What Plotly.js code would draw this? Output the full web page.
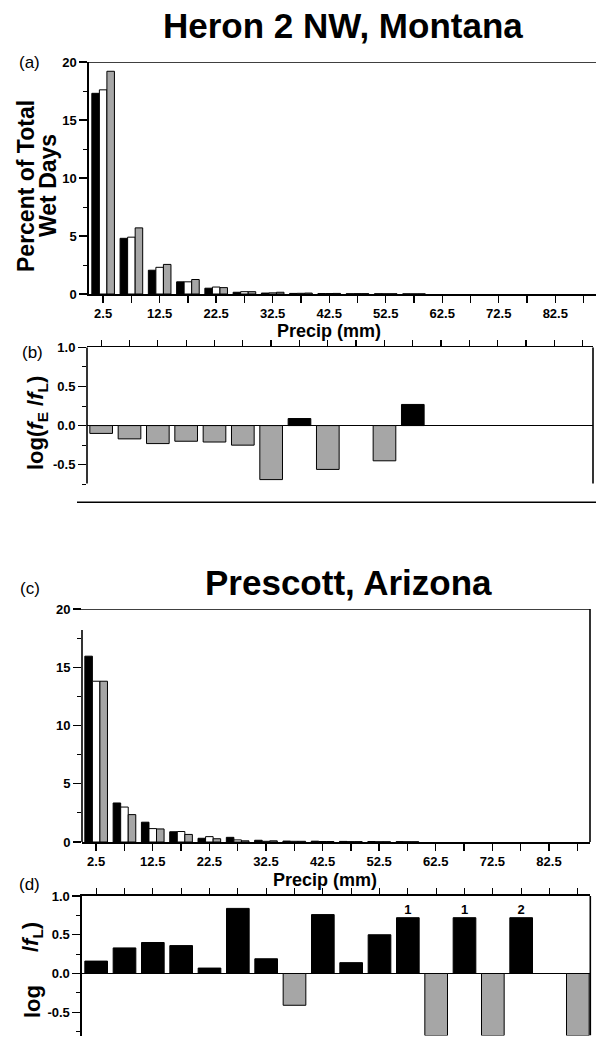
<!DOCTYPE html>
<html>
<head>
<meta charset="utf-8">
<script src="https://cdn.plot.ly/plotly-3.0.1.min.js"></script>
<style>
  html, body { margin: 0; padding: 0; background: #fff; }
  #chart { width: 596px; height: 1051px; }
</style>
</head>
<body>
<div id="chart"></div>
<script>
// ---------------- DATA ----------------
const binCenters = [2.5, 7.5, 12.5, 17.5, 22.5, 27.5, 32.5, 37.5, 42.5, 47.5, 52.5, 57.5, 62.5, 67.5, 72.5, 77.5, 82.5, 87.5];
const xTickValues = [2.5, 12.5, 22.5, 32.5, 42.5, 52.5, 62.5, 72.5, 82.5];
const xTickLabels = ['2.5', '12.5', '22.5', '32.5', '42.5', '52.5', '62.5', '72.5', '82.5'];

// Heron 2 NW, Montana (panel a): percent of total wet days
const heronBlack = [17.3, 4.8, 2.05, 1.05, 0.5, 0.15, 0.08, 0.05, 0.04, 0.02, 0.02, 0.01];
const heronWhite = [17.6, 4.9, 2.3, 1.05, 0.6, 0.2, 0.1, 0.06, 0.04, 0.03, 0.02, 0.01];
const heronGrey  = [19.2, 5.7, 2.55, 1.25, 0.55, 0.2, 0.15, 0.08, 0.05, 0.03, 0.02, 0.01];

// Heron (panel b): log(fE/fL) per bin (null = no bar)
const heronLogRatio = [-0.10, -0.17, -0.23, -0.20, -0.21, -0.25, -0.69, 0.09, -0.56, null, -0.45, 0.27, null, null, null, null, null, null];

// Prescott, Arizona (panel c)
const prescottBlack = [15.95, 3.35, 1.7, 0.88, 0.32, 0.4, 0.15, 0.08, 0.07, 0.05, 0.04, 0.03];
const prescottWhite = [13.8, 3.0, 1.15, 0.9, 0.46, 0.18, 0.06, 0.06, 0.04, 0.03, 0.02, 0.02];
const prescottGrey  = [13.8, 2.35, 1.12, 0.65, 0.28, 0.1, 0.1, 0.06, 0.04, 0.03, 0.02, 0.02];

// Prescott (panel d)
const prescottLogRatio = [0.16, 0.33, 0.40, 0.36, 0.07, 0.84, 0.19, -0.41, 0.76, 0.14, 0.50, 0.72, -0.80, 0.72, -0.80, 0.72, null, -0.80];
const prescottCountBins = [57.5, 67.5, 77.5];
const prescottCountLabels = ['1', '1', '2'];

// ---------------- STYLE / LAYOUT HELPERS ----------------
const W = 596, H = 1051;
const px = x => x / W;
const py = y => 1 - y / H;
const FONT = 'Liberation Sans, Arial, Helvetica, sans-serif';
const GREY = '#a6a6a6';
const tickFont = { family: FONT, size: 13, color: 'black', weight: 'bold' };

function groupTraces(vals, xa, ya) {
  const x = binCenters.slice(0, vals[0].length);
  return [
    { type: 'bar', name: 'Black', x: x, y: vals[0], xaxis: xa, yaxis: ya,
      marker: { color: 'black', line: { color: 'black', width: 1 } }, showlegend: false },
    { type: 'bar', name: 'White', x: x, y: vals[1], xaxis: xa, yaxis: ya,
      marker: { color: 'white', line: { color: 'black', width: 1 } }, showlegend: false },
    { type: 'bar', name: 'Grey', x: x, y: vals[2], xaxis: xa, yaxis: ya,
      marker: { color: GREY, line: { color: 'black', width: 1 } }, showlegend: false }
  ];
}
function ratioTrace(vals, xa, ya) {
  return {
    type: 'bar', x: binCenters, y: vals, xaxis: xa, yaxis: ya, showlegend: false,
    marker: {
      color: vals.map(v => (v !== null && v >= 0) ? 'black' : GREY),
      line: { color: 'black', width: 1 }
    }
  };
}
function countLabels(bins, labels, vals, xa, ya) {
  return {
    type: 'scatter', mode: 'text', x: bins,
    y: bins.map(b => vals[binCenters.indexOf(b)]),
    text: labels, textposition: 'top center', cliponaxis: false,
    textfont: { family: FONT, size: 13, color: 'black', weight: 'bold' },
    xaxis: xa, yaxis: ya, showlegend: false, hoverinfo: 'skip'
  };
}

const data = [
  ...groupTraces([heronBlack, heronWhite, heronGrey], 'x', 'y'),
  ratioTrace(heronLogRatio, 'x2', 'y2'),
  ...groupTraces([prescottBlack, prescottWhite, prescottGrey], 'x3', 'y3'),
  ratioTrace(prescottLogRatio, 'x4', 'y4'),
  countLabels(prescottCountBins, prescottCountLabels, prescottLogRatio, 'x4', 'y4')
];

const histX = (dom, rng, anchor) => ({
  domain: dom, range: rng, anchor: anchor, showline: true, linecolor: 'black', linewidth: 1.6,
  tickmode: 'array', tickvals: xTickValues, ticktext: xTickLabels,
  ticks: 'outside', ticklen: 7, tickwidth: 1.4, tickcolor: 'black',
  minor: { tick0: 2.5, dtick: 5, ticks: 'outside', ticklen: 7, tickwidth: 1.4, tickcolor: 'black' },
  tickfont: tickFont, showgrid: false, zeroline: false
});
const histY = (dom, anchor, showline) => ({
  domain: dom, range: [0, 20], anchor: anchor, showline: showline, linecolor: 'black', linewidth: 1.6,
  tickmode: 'array', tickvals: [0, 5, 10, 15, 20], ticks: 'outside', ticklen: 8, tickwidth: 1.4,
  tickcolor: 'black', tickfont: tickFont, showgrid: false, zeroline: false,
  minor: { tick0: 0, dtick: 2.5, ticks: 'outside', ticklen: 4, tickwidth: 1, tickcolor: 'black' }
});
const ratioX = (dom, rng, anchor) => ({
  domain: dom, range: rng, anchor: anchor, side: 'top', showline: true, linecolor: 'black', linewidth: 1.6,
  tickmode: 'linear', tick0: 2.5, dtick: 5, showticklabels: false,
  ticks: 'outside', ticklen: 6, tickwidth: 1.3, tickcolor: 'black', showgrid: false, zeroline: false
});
const ratioY = (dom, rng, anchor, showline) => ({
  domain: dom, range: rng, anchor: anchor, showline: showline, linecolor: 'black', linewidth: 1.6,
  tickmode: 'array', tickvals: [-0.5, 0, 0.5, 1.0], ticktext: ['-0.5', '0.0', '0.5', '1.0'],
  ticks: 'outside', ticklen: 8, tickwidth: 1.4, tickcolor: 'black', tickfont: tickFont,
  showgrid: false, zeroline: true, zerolinecolor: 'black', zerolinewidth: 1.6,
  minor: { tick0: 0, dtick: 0.25, ticks: 'outside', ticklen: 4, tickwidth: 1, tickcolor: 'black' }
});

const line = (o) => Object.assign({ type: 'line', line: { color: 'black', width: 1.6 } }, o);

const ann = (text, x, y, size, extra) => Object.assign({
  text: text, x: px(x), y: py(y), xref: 'paper', yref: 'paper', showarrow: false,
  xanchor: 'center', yanchor: 'middle', font: { family: FONT, size: size, color: 'black' }
}, extra || {});

const layout = {
  width: W, height: H, margin: { l: 0, r: 0, t: 0, b: 0 },
  paper_bgcolor: 'white', plot_bgcolor: 'rgba(0,0,0,0)',
  barmode: 'group', bargap: 0.2, bargroupgap: 0, showlegend: false,
  font: { family: FONT, color: 'black' },

  xaxis: histX([px(89), 1], [0, 89.7], 'y'),
  yaxis: histY([py(294), py(62)], 'x', true),

  xaxis2: ratioX([px(87), px(593)], [0, 89.3], 'y2'),
  yaxis2: ratioY([py(502.3), py(347.3)], [-0.98, 1.0], 'x2', false),

  xaxis3: histX([px(82), px(590)], [0, 89.75], 'y3'),
  yaxis3: histY([py(842), py(609)], 'x3', false),

  xaxis4: ratioX([px(82), px(590.3)], [0, 89.7], 'y4'),
  yaxis4: ratioY([py(1035.5), py(896)], [-0.8, 1.0], 'x4', true),

  shapes: [
    // (a) top frame line
    line({ xref: 'x domain', yref: 'y', x0: 0, x1: 1, y0: 20, y1: 20 }),
    // (b) left, right and bottom lines
    line({ xref: 'x2 domain', yref: 'y2', x0: 0, x1: 0, y0: -0.74, y1: 1.0 }),
    line({ xref: 'x2 domain', yref: 'y2', x0: 1, x1: 1, y0: -0.74, y1: 1.0 }),
    line({ xref: 'paper', yref: 'y2 domain', x0: px(77), x1: 1, y0: 0, y1: 0 }),
    // (c) top, left and right lines
    line({ xref: 'paper', yref: 'y3', x0: px(77), x1: px(590), y0: 20, y1: 20 }),
    line({ xref: 'x3 domain', yref: 'y3', x0: 0, x1: 0, y0: 0, y1: 18.2 }),
    line({ xref: 'x3 domain', yref: 'y3', x0: 1, x1: 1, y0: 0, y1: 20 }),
    // (d) right line
    line({ xref: 'x4 domain', yref: 'y4', x0: 1, x1: 1, y0: -0.8, y1: 1.0 })
  ],

  annotations: [
    ann('<b>Heron 2 NW, Montana</b>', 343, 26, 35),
    ann('<b>Prescott, Arizona</b>', 348, 582, 35),
    ann('(a)', 30, 62, 17),
    ann('(b)', 32, 352, 17),
    ann('(c)', 30, 588, 17),
    ann('(d)', 30, 884, 17),
    ann('<b>Precip (mm)</b>', 329, 331, 18),
    ann('<b>Precip (mm)</b>', 325, 880, 18),
    ann('<b>Percent of Total</b>', 26, 186, 23, { textangle: -90 }),
    ann('<b>Wet Days</b>', 48, 186, 23, { textangle: -90 }),
    ann('<b>log(<i>f</i><sub>E</sub> /<i>f</i><sub>L</sub>)</b>', 37, 423, 22, { textangle: -90 }),
    ann('<b>/<i>f</i><sub>L</sub>)</b>', 32, 937, 22, { textangle: -90 }),
    ann('<b>log</b>', 32, 1002, 22, { textangle: -90 })
  ]
};

Plotly.newPlot('chart', data, layout, { staticPlot: true, displayModeBar: false });
</script>
</body>
</html>
